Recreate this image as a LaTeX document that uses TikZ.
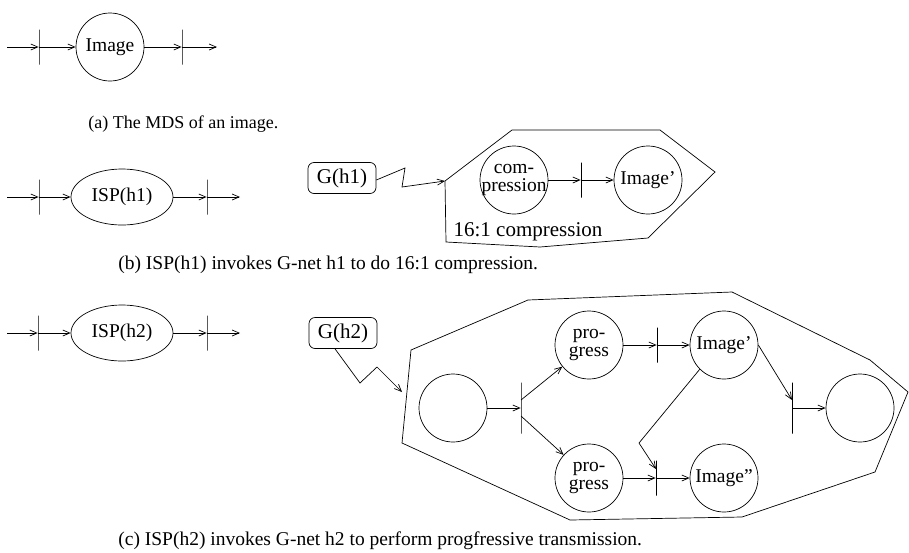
\documentclass[tikz,border=0pt]{standalone}
\usepackage{fontspec}
\setmainfont{Liberation Serif}
\usetikzlibrary{arrows.meta, shapes.geometric}

\begin{document}
\begin{tikzpicture}[x=1pt, y=-1pt, line width=0.7pt,
    place/.style={draw, circle, minimum size=68pt, inner sep=0pt, font=\fontsize{19.5}{18}\selectfont},
    word/.style={align=center, inner sep=0pt, font=\fontsize{19.5}{18}\selectfont},
    isp/.style={draw, ellipse, minimum width=102pt, minimum height=56pt, inner sep=0pt, font=\fontsize{19.5}{22}\selectfont},
    trans/.style={draw, rectangle, minimum width=0pt, minimum height=35pt, inner sep=0pt},
    gnet/.style={draw, rounded corners=6pt, minimum width=68pt, minimum height=31pt, inner sep=0pt, font=\fontsize{21}{22}\selectfont},
    arc/.style={-{Straight Barb[length=7pt,width=6pt]}},
    caption/.style={anchor=west, inner sep=0pt, font=\fontsize{19.5}{22}\selectfont}]
    \useasboundingbox (0,0) rectangle (909,552);

    % (a) MDS of an image
    \coordinate (ain) at (7,47);
    \coordinate (aout) at (217,47);
    \node[trans] (ta1) at (39,47) {};
    \node[place] (img) at (110,47) {Image};
    \node[trans] (ta2) at (182,47) {};
    \draw[arc] (ain) -- (ta1);
    \draw[arc] (ta1) -- (img);
    \draw[arc] (img) -- (ta2);
    \draw[arc] (ta2) -- (aout);
    \node[caption, font=\fontsize{18}{20}\selectfont] (capa) at (88,124) {(a) The MDS of an image.};

    % (b) ISP(h1)
    \coordinate (bin) at (7,197);
    \coordinate (bout) at (240,197);
    \node[trans] (tb1) at (39,197) {};
    \node[isp] (isp1) at (122,197) {ISP(h1)};
    \node[trans] (tb2) at (207,197) {};
    \draw[arc] (bin) -- (tb1);
    \draw[arc] (tb1) -- (isp1);
    \draw[arc] (isp1) -- (tb2);
    \draw[arc] (tb2) -- (bout);

    % G-net h1
    \node[gnet] (gh1) at (342,178) {G(h1)};
    \coordinate (hb1) at (445,181);
    \draw (hb1) -- (512,130) -- (660,130) -- (715,172) -- (648,238)
        -- (540,247) -- (446,242) -- cycle;
    \draw[arc] ([yshift=-2pt]gh1.east) -- (405,168) -- (402,187) -- (hb1);
    \node[place, label={[word]center:{com-\\pression}}] (comp) at (514,180) {};
    \node[trans] (tb3) at (581,180) {};
    \node[place] (img1) at (648,180) {Image'};
    \draw[arc] (comp) -- (tb3);
    \draw[arc] (tb3) -- (img1);
    \node[word, font=\fontsize{21}{22}\selectfont] (ratio) at (528,232) {16:1 compression};
    \node[caption] (capb) at (118,265) {(b) ISP(h1) invokes G-net h1 to do 16:1 compression.};

    % (c) ISP(h2)
    \coordinate (cin) at (7,333);
    \coordinate (cout) at (240,333);
    \node[trans] (tc1) at (38,333) {};
    \node[isp] (isp2) at (122,333) {ISP(h2)};
    \node[trans] (tc2) at (207,333) {};
    \draw[arc] (cin) -- (tc1);
    \draw[arc] (tc1) -- (isp2);
    \draw[arc] (isp2) -- (tc2);
    \draw[arc] (tc2) -- (cout);

    % G-net h2
    \node[gnet] (gh2) at (343,333) {G(h2)};
    \draw (411,350) -- (528,300) -- (732,292) -- (870,360) -- (908,392)
        -- (875,472) -- (742,517) -- (570,520) -- (402,443) -- cycle;
    \coordinate (hc1) at (402,392);
    \draw[arc] ([xshift=-8pt]gh2.south) -- (360,383) -- (377,367) -- (hc1);

    \node[place] (start) at (453,408) {};
    \node[trans, minimum height=51pt] (t1) at (521,408) {};
    \node[place, label={[word]center:{pro-\\gress}}] (prog1) at (589,345) {};
    \node[place, label={[word]center:{pro-\\gress}}] (prog2) at (589,478) {};
    \node[trans] (t2) at (657,345) {};
    \node[trans] (t3) at (656,478) {};
    \node[place] (img2) at (724,345) {Image'};
    \node[place] (img3) at (724,478) {Image''};
    \node[trans, minimum height=51pt] (t4) at (792,408) {};
    \node[place] (end) at (860,408) {};

    \draw[arc] (start) -- (t1);
    \draw[arc] ([yshift=8pt]t1.center) -- (prog1);
    \draw[arc] ([yshift=-8pt]t1.center) -- (prog2);
    \draw[arc] (prog1) -- (t2);
    \draw[arc] (t2) -- (img2);
    \draw[arc] (prog2) -- (t3);
    \draw[arc] (t3) -- (img3);
    \draw[arc] (img2.east) -- ([yshift=8pt]t4.center);
    \draw[arc] (img2.225) -- (639,443) -- ([yshift=9pt]t3.center);
    \draw[arc] (t4) -- (end);
    \node[caption] (capc) at (118,541) {(c) ISP(h2) invokes G-net h2 to perform progfressive transmission.};
\end{tikzpicture}
\end{document}
